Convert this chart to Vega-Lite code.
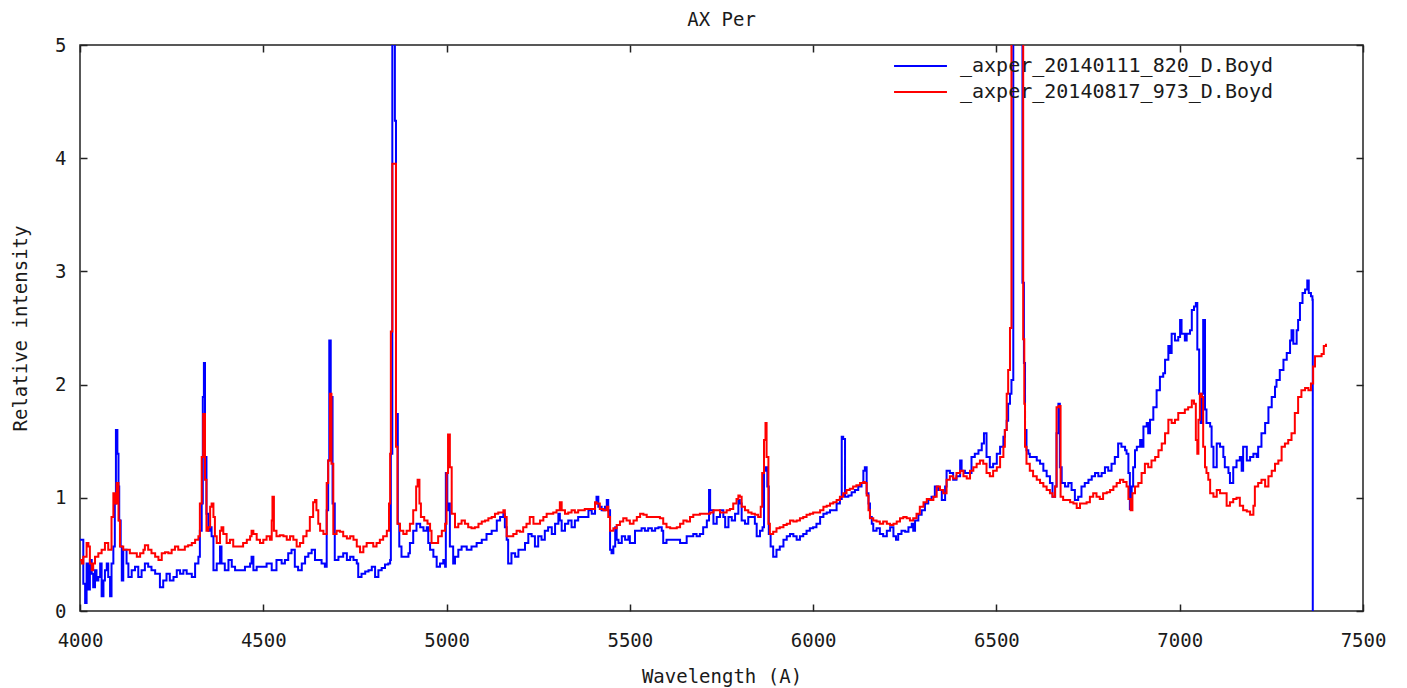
{
"$schema": "https://vega.github.io/schema/vega-lite/v6.json",
"width": 1283, "height": 566,
"autosize": {"type": "none"},
"padding": {"left": 80, "top": 45, "right": 44, "bottom": 77},
"background": "white",
"title": {"text": "AX Per", "font": "DejaVu Sans Mono", "fontSize": 19, "fontWeight": "normal", "color": "#1a1a1a", "offset": 6},
"config": {
  "view": {"stroke": "#222", "strokeWidth": 1.5},
  "axis": {"domain": false, "grid": false, "ticks": true, "tickSize": -7, "tickColor": "#222", "tickWidth": 1.5, "labelFlush": false,
    "labelFont": "DejaVu Sans Mono", "labelFontSize": 19, "labelColor": "#1a1a1a",
    "titleFont": "DejaVu Sans Mono", "titleFontSize": 19, "titleFontWeight": "normal", "titleColor": "#1a1a1a"},
  "axisBottom": {"labelPadding": 27, "titlePadding": 17},
  "axisLeft": {"labelPadding": 21, "titlePadding": 24}
},
"datasets": {
"blue": [
{"w":4000,"v":0.63},{"w":4009,"v":0.24},{"w":4014,"v":0.07},{"w":4018,"v":0.42},{"w":4023,"v":0.19},{"w":4027,"v":0.45},{"w":4032,"v":0.33},{"w":4036,"v":0.21},{"w":4041,"v":0.36},{"w":4045,"v":0.27},{"w":4050,"v":0.30},{"w":4055,"v":0.42},{"w":4059,"v":0.13},{"w":4064,"v":0.27},{"w":4068,"v":0.36},{"w":4073,"v":0.42},{"w":4077,"v":0.30},{"w":4082,"v":0.13},{"w":4086,"v":0.42},{"w":4091,"v":0.57},{"w":4095,"v":0.95},{"w":4098,"v":1.60},{"w":4102,"v":1.39},{"w":4105,"v":1.10},{"w":4107,"v":0.80},{"w":4111,"v":0.57},{"w":4114,"v":0.27},{"w":4118,"v":0.54},{"w":4127,"v":0.42},{"w":4132,"v":0.30},{"w":4141,"v":0.36},{"w":4150,"v":0.39},{"w":4159,"v":0.30},{"w":4168,"v":0.36},{"w":4177,"v":0.42},{"w":4186,"v":0.39},{"w":4195,"v":0.36},{"w":4205,"v":0.33},{"w":4218,"v":0.21},{"w":4227,"v":0.27},{"w":4236,"v":0.33},{"w":4245,"v":0.27},{"w":4255,"v":0.30},{"w":4264,"v":0.36},{"w":4273,"v":0.33},{"w":4282,"v":0.36},{"w":4291,"v":0.33},{"w":4305,"v":0.30},{"w":4314,"v":0.42},{"w":4323,"v":0.48},{"w":4327,"v":0.71},{"w":4332,"v":0.95},{"w":4335,"v":1.89},{"w":4338,"v":2.19},{"w":4341,"v":1.36},{"w":4345,"v":0.86},{"w":4350,"v":0.71},{"w":4355,"v":0.74},{"w":4359,"v":0.66},{"w":4364,"v":0.36},{"w":4373,"v":0.42},{"w":4382,"v":0.57},{"w":4386,"v":0.42},{"w":4395,"v":0.36},{"w":4405,"v":0.45},{"w":4414,"v":0.39},{"w":4423,"v":0.36},{"w":4436,"v":0.36},{"w":4450,"v":0.39},{"w":4464,"v":0.42},{"w":4468,"v":0.48},{"w":4473,"v":0.36},{"w":4482,"v":0.39},{"w":4495,"v":0.39},{"w":4509,"v":0.42},{"w":4523,"v":0.36},{"w":4536,"v":0.45},{"w":4550,"v":0.42},{"w":4559,"v":0.45},{"w":4568,"v":0.51},{"w":4577,"v":0.54},{"w":4586,"v":0.39},{"w":4595,"v":0.36},{"w":4605,"v":0.42},{"w":4614,"v":0.48},{"w":4623,"v":0.51},{"w":4632,"v":0.54},{"w":4641,"v":0.45},{"w":4650,"v":0.45},{"w":4659,"v":0.42},{"w":4668,"v":0.39},{"w":4673,"v":0.89},{"w":4677,"v":1.33},{"w":4680,"v":2.39},{"w":4684,"v":1.89},{"w":4689,"v":0.95},{"w":4695,"v":0.45},{"w":4705,"v":0.48},{"w":4718,"v":0.51},{"w":4728,"v":0.45},{"w":4737,"v":0.48},{"w":4746,"v":0.45},{"w":4755,"v":0.42},{"w":4759,"v":0.30},{"w":4768,"v":0.33},{"w":4778,"v":0.35},{"w":4787,"v":0.36},{"w":4796,"v":0.39},{"w":4805,"v":0.30},{"w":4814,"v":0.36},{"w":4823,"v":0.38},{"w":4832,"v":0.41},{"w":4841,"v":0.42},{"w":4846,"v":0.45},{"w":4848,"v":1.39},{"w":4852,"v":5.5},{"w":4857,"v":5.5},{"w":4859,"v":4.33},{"w":4862,"v":1.74},{"w":4867,"v":0.77},{"w":4871,"v":0.57},{"w":4877,"v":0.48},{"w":4887,"v":0.48},{"w":4896,"v":0.51},{"w":4900,"v":0.60},{"w":4909,"v":0.71},{"w":4918,"v":0.77},{"w":4928,"v":0.74},{"w":4937,"v":0.71},{"w":4946,"v":0.74},{"w":4950,"v":0.60},{"w":4955,"v":0.54},{"w":4964,"v":0.48},{"w":4973,"v":0.39},{"w":4982,"v":0.42},{"w":4991,"v":0.45},{"w":4996,"v":0.39},{"w":4998,"v":1.22},{"w":5002,"v":0.89},{"w":5007,"v":0.95},{"w":5009,"v":0.57},{"w":5018,"v":0.42},{"w":5023,"v":0.48},{"w":5032,"v":0.54},{"w":5041,"v":0.57},{"w":5055,"v":0.54},{"w":5068,"v":0.57},{"w":5082,"v":0.60},{"w":5096,"v":0.63},{"w":5109,"v":0.68},{"w":5123,"v":0.71},{"w":5137,"v":0.80},{"w":5146,"v":0.83},{"w":5155,"v":0.86},{"w":5159,"v":0.74},{"w":5164,"v":0.63},{"w":5168,"v":0.42},{"w":5177,"v":0.51},{"w":5187,"v":0.48},{"w":5196,"v":0.54},{"w":5205,"v":0.54},{"w":5214,"v":0.60},{"w":5223,"v":0.68},{"w":5232,"v":0.66},{"w":5241,"v":0.57},{"w":5250,"v":0.66},{"w":5259,"v":0.63},{"w":5268,"v":0.71},{"w":5277,"v":0.74},{"w":5287,"v":0.68},{"w":5296,"v":0.77},{"w":5305,"v":0.86},{"w":5309,"v":0.80},{"w":5314,"v":0.71},{"w":5323,"v":0.77},{"w":5332,"v":0.80},{"w":5341,"v":0.74},{"w":5350,"v":0.80},{"w":5359,"v":0.83},{"w":5368,"v":0.83},{"w":5377,"v":0.83},{"w":5387,"v":0.89},{"w":5396,"v":0.86},{"w":5405,"v":0.95},{"w":5409,"v":1.01},{"w":5414,"v":0.92},{"w":5423,"v":0.89},{"w":5432,"v":0.92},{"w":5437,"v":0.98},{"w":5441,"v":0.89},{"w":5446,"v":0.54},{"w":5450,"v":0.51},{"w":5455,"v":0.57},{"w":5460,"v":0.74},{"w":5464,"v":0.63},{"w":5469,"v":0.60},{"w":5478,"v":0.66},{"w":5487,"v":0.63},{"w":5496,"v":0.66},{"w":5500,"v":0.60},{"w":5510,"v":0.60},{"w":5514,"v":0.71},{"w":5523,"v":0.71},{"w":5532,"v":0.73},{"w":5541,"v":0.71},{"w":5550,"v":0.73},{"w":5560,"v":0.71},{"w":5569,"v":0.73},{"w":5578,"v":0.74},{"w":5587,"v":0.71},{"w":5591,"v":0.60},{"w":5600,"v":0.63},{"w":5619,"v":0.63},{"w":5637,"v":0.60},{"w":5646,"v":0.60},{"w":5655,"v":0.66},{"w":5664,"v":0.66},{"w":5673,"v":0.68},{"w":5682,"v":0.66},{"w":5691,"v":0.68},{"w":5700,"v":0.74},{"w":5710,"v":0.80},{"w":5716,"v":1.07},{"w":5719,"v":0.89},{"w":5728,"v":0.77},{"w":5737,"v":0.83},{"w":5746,"v":0.89},{"w":5755,"v":0.83},{"w":5760,"v":0.74},{"w":5769,"v":0.83},{"w":5778,"v":0.80},{"w":5787,"v":0.86},{"w":5796,"v":0.98},{"w":5800,"v":0.95},{"w":5805,"v":0.80},{"w":5814,"v":0.77},{"w":5823,"v":0.83},{"w":5832,"v":0.83},{"w":5841,"v":0.77},{"w":5846,"v":0.66},{"w":5855,"v":0.71},{"w":5862,"v":0.74},{"w":5866,"v":1.24},{"w":5870,"v":1.27},{"w":5875,"v":1.10},{"w":5879,"v":0.68},{"w":5884,"v":0.57},{"w":5891,"v":0.48},{"w":5900,"v":0.54},{"w":5909,"v":0.57},{"w":5919,"v":0.63},{"w":5928,"v":0.66},{"w":5937,"v":0.68},{"w":5946,"v":0.66},{"w":5955,"v":0.63},{"w":5964,"v":0.66},{"w":5973,"v":0.68},{"w":5982,"v":0.71},{"w":5991,"v":0.73},{"w":6000,"v":0.74},{"w":6009,"v":0.77},{"w":6019,"v":0.83},{"w":6028,"v":0.86},{"w":6037,"v":0.87},{"w":6046,"v":0.89},{"w":6055,"v":0.89},{"w":6064,"v":0.95},{"w":6073,"v":0.99},{"w":6078,"v":1.54},{"w":6082,"v":1.52},{"w":6087,"v":1.01},{"w":6096,"v":1.02},{"w":6105,"v":1.05},{"w":6114,"v":1.07},{"w":6123,"v":1.10},{"w":6132,"v":1.13},{"w":6137,"v":1.24},{"w":6141,"v":1.27},{"w":6146,"v":1.04},{"w":6151,"v":0.95},{"w":6155,"v":0.83},{"w":6160,"v":0.77},{"w":6164,"v":0.71},{"w":6173,"v":0.73},{"w":6182,"v":0.68},{"w":6191,"v":0.66},{"w":6201,"v":0.71},{"w":6210,"v":0.74},{"w":6219,"v":0.66},{"w":6226,"v":0.63},{"w":6232,"v":0.68},{"w":6241,"v":0.71},{"w":6251,"v":0.70},{"w":6260,"v":0.74},{"w":6269,"v":0.77},{"w":6273,"v":0.71},{"w":6278,"v":0.80},{"w":6287,"v":0.85},{"w":6296,"v":0.89},{"w":6305,"v":0.95},{"w":6314,"v":0.98},{"w":6323,"v":1.01},{"w":6332,"v":1.10},{"w":6341,"v":1.07},{"w":6351,"v":0.98},{"w":6360,"v":1.10},{"w":6364,"v":1.24},{"w":6373,"v":1.22},{"w":6382,"v":1.16},{"w":6391,"v":1.19},{"w":6401,"v":1.33},{"w":6405,"v":1.24},{"w":6414,"v":1.22},{"w":6423,"v":1.22},{"w":6432,"v":1.36},{"w":6441,"v":1.39},{"w":6451,"v":1.42},{"w":6460,"v":1.48},{"w":6466,"v":1.57},{"w":6473,"v":1.36},{"w":6482,"v":1.27},{"w":6491,"v":1.30},{"w":6501,"v":1.39},{"w":6510,"v":1.45},{"w":6519,"v":1.54},{"w":6523,"v":1.60},{"w":6528,"v":1.68},{"w":6532,"v":1.83},{"w":6537,"v":1.92},{"w":6541,"v":2.04},{"w":6546,"v":5.5},{"w":6569,"v":5.5},{"w":6571,"v":2.9},{"w":6575,"v":2.19},{"w":6578,"v":1.60},{"w":6582,"v":1.42},{"w":6587,"v":1.39},{"w":6591,"v":1.36},{"w":6600,"v":1.36},{"w":6610,"v":1.33},{"w":6619,"v":1.30},{"w":6628,"v":1.24},{"w":6637,"v":1.19},{"w":6646,"v":1.13},{"w":6653,"v":1.01},{"w":6660,"v":1.10},{"w":6664,"v":1.57},{"w":6669,"v":1.83},{"w":6673,"v":1.27},{"w":6678,"v":1.13},{"w":6687,"v":1.10},{"w":6696,"v":1.13},{"w":6705,"v":1.07},{"w":6714,"v":0.98},{"w":6723,"v":1.01},{"w":6732,"v":1.10},{"w":6741,"v":1.13},{"w":6751,"v":1.16},{"w":6760,"v":1.19},{"w":6769,"v":1.22},{"w":6778,"v":1.19},{"w":6787,"v":1.22},{"w":6796,"v":1.27},{"w":6805,"v":1.24},{"w":6814,"v":1.30},{"w":6823,"v":1.36},{"w":6832,"v":1.48},{"w":6841,"v":1.45},{"w":6851,"v":1.42},{"w":6855,"v":1.39},{"w":6860,"v":1.22},{"w":6864,"v":0.90},{"w":6869,"v":1.10},{"w":6873,"v":1.27},{"w":6878,"v":1.42},{"w":6883,"v":1.45},{"w":6892,"v":1.51},{"w":6896,"v":1.45},{"w":6901,"v":1.63},{"w":6910,"v":1.66},{"w":6914,"v":1.57},{"w":6919,"v":1.69},{"w":6928,"v":1.80},{"w":6937,"v":1.95},{"w":6946,"v":2.07},{"w":6955,"v":2.10},{"w":6960,"v":2.22},{"w":6969,"v":2.34},{"w":6973,"v":2.28},{"w":6978,"v":2.45},{"w":6987,"v":2.39},{"w":6996,"v":2.42},{"w":7001,"v":2.57},{"w":7005,"v":2.45},{"w":7014,"v":2.39},{"w":7019,"v":2.45},{"w":7028,"v":2.48},{"w":7033,"v":2.66},{"w":7039,"v":2.69},{"w":7044,"v":2.72},{"w":7048,"v":2.31},{"w":7053,"v":1.92},{"w":7057,"v":1.66},{"w":7061,"v":1.92},{"w":7064,"v":2.57},{"w":7069,"v":1.78},{"w":7073,"v":1.66},{"w":7083,"v":1.63},{"w":7087,"v":1.45},{"w":7092,"v":1.27},{"w":7101,"v":1.48},{"w":7110,"v":1.45},{"w":7119,"v":1.36},{"w":7123,"v":1.27},{"w":7133,"v":1.22},{"w":7137,"v":1.13},{"w":7146,"v":1.27},{"w":7155,"v":1.33},{"w":7164,"v":1.36},{"w":7169,"v":1.24},{"w":7173,"v":1.45},{"w":7183,"v":1.33},{"w":7192,"v":1.36},{"w":7201,"v":1.39},{"w":7210,"v":1.36},{"w":7214,"v":1.45},{"w":7223,"v":1.57},{"w":7233,"v":1.66},{"w":7242,"v":1.80},{"w":7251,"v":1.89},{"w":7260,"v":1.98},{"w":7264,"v":2.04},{"w":7273,"v":2.13},{"w":7283,"v":2.22},{"w":7292,"v":2.28},{"w":7301,"v":2.39},{"w":7305,"v":2.48},{"w":7310,"v":2.36},{"w":7319,"v":2.48},{"w":7323,"v":2.57},{"w":7328,"v":2.72},{"w":7335,"v":2.81},{"w":7342,"v":2.84},{"w":7348,"v":2.92},{"w":7352,"v":2.81},{"w":7358,"v":2.78},{"w":7362,"v":2.75},{"w":7363,"v":0}
],
"red": [
{"w":4000,"v":0.45},{"w":4005,"v":0.42},{"w":4009,"v":0.48},{"w":4018,"v":0.60},{"w":4023,"v":0.57},{"w":4027,"v":0.42},{"w":4032,"v":0.36},{"w":4036,"v":0.42},{"w":4041,"v":0.48},{"w":4050,"v":0.51},{"w":4059,"v":0.54},{"w":4068,"v":0.60},{"w":4077,"v":0.54},{"w":4086,"v":0.83},{"w":4091,"v":1.04},{"w":4095,"v":0.95},{"w":4100,"v":1.13},{"w":4105,"v":0.80},{"w":4109,"v":0.57},{"w":4118,"v":0.54},{"w":4127,"v":0.54},{"w":4136,"v":0.51},{"w":4145,"v":0.51},{"w":4155,"v":0.48},{"w":4164,"v":0.51},{"w":4173,"v":0.54},{"w":4177,"v":0.58},{"w":4186,"v":0.54},{"w":4195,"v":0.51},{"w":4205,"v":0.48},{"w":4214,"v":0.45},{"w":4223,"v":0.51},{"w":4232,"v":0.52},{"w":4241,"v":0.51},{"w":4250,"v":0.54},{"w":4259,"v":0.57},{"w":4268,"v":0.54},{"w":4277,"v":0.54},{"w":4286,"v":0.57},{"w":4295,"v":0.58},{"w":4305,"v":0.60},{"w":4314,"v":0.63},{"w":4323,"v":0.66},{"w":4327,"v":0.95},{"w":4332,"v":1.36},{"w":4336,"v":1.74},{"w":4341,"v":1.16},{"w":4345,"v":0.71},{"w":4350,"v":0.74},{"w":4355,"v":0.92},{"w":4359,"v":0.95},{"w":4364,"v":0.83},{"w":4368,"v":0.66},{"w":4373,"v":0.60},{"w":4382,"v":0.71},{"w":4386,"v":0.74},{"w":4391,"v":0.68},{"w":4400,"v":0.60},{"w":4409,"v":0.63},{"w":4418,"v":0.57},{"w":4427,"v":0.57},{"w":4436,"v":0.57},{"w":4445,"v":0.60},{"w":4455,"v":0.63},{"w":4464,"v":0.66},{"w":4468,"v":0.71},{"w":4473,"v":0.68},{"w":4482,"v":0.63},{"w":4491,"v":0.60},{"w":4500,"v":0.63},{"w":4509,"v":0.66},{"w":4518,"v":0.63},{"w":4523,"v":0.80},{"w":4525,"v":1.01},{"w":4529,"v":0.71},{"w":4536,"v":0.66},{"w":4545,"v":0.67},{"w":4555,"v":0.66},{"w":4564,"v":0.63},{"w":4573,"v":0.66},{"w":4582,"v":0.63},{"w":4591,"v":0.57},{"w":4600,"v":0.60},{"w":4609,"v":0.66},{"w":4618,"v":0.71},{"w":4627,"v":0.83},{"w":4636,"v":0.96},{"w":4641,"v":0.98},{"w":4645,"v":0.89},{"w":4650,"v":0.77},{"w":4655,"v":0.71},{"w":4664,"v":0.68},{"w":4673,"v":1.13},{"w":4677,"v":1.33},{"w":4682,"v":1.92},{"w":4686,"v":1.30},{"w":4691,"v":0.68},{"w":4700,"v":0.71},{"w":4709,"v":0.70},{"w":4718,"v":0.66},{"w":4728,"v":0.64},{"w":4737,"v":0.66},{"w":4746,"v":0.63},{"w":4755,"v":0.57},{"w":4764,"v":0.52},{"w":4773,"v":0.57},{"w":4782,"v":0.60},{"w":4791,"v":0.60},{"w":4800,"v":0.57},{"w":4809,"v":0.60},{"w":4818,"v":0.63},{"w":4827,"v":0.66},{"w":4837,"v":0.71},{"w":4843,"v":0.95},{"w":4846,"v":1.39},{"w":4848,"v":2.47},{"w":4852,"v":3.95},{"w":4859,"v":3.95},{"w":4862,"v":1.45},{"w":4866,"v":0.77},{"w":4873,"v":0.71},{"w":4882,"v":0.68},{"w":4891,"v":0.71},{"w":4900,"v":0.77},{"w":4909,"v":0.89},{"w":4917,"v":1.10},{"w":4921,"v":1.16},{"w":4926,"v":0.95},{"w":4930,"v":0.83},{"w":4939,"v":0.80},{"w":4948,"v":0.77},{"w":4955,"v":0.71},{"w":4959,"v":0.60},{"w":4968,"v":0.60},{"w":4977,"v":0.66},{"w":4987,"v":0.71},{"w":4996,"v":0.77},{"w":5000,"v":1.22},{"w":5004,"v":1.56},{"w":5009,"v":1.27},{"w":5014,"v":0.86},{"w":5023,"v":0.74},{"w":5032,"v":0.77},{"w":5041,"v":0.80},{"w":5050,"v":0.77},{"w":5059,"v":0.74},{"w":5068,"v":0.73},{"w":5077,"v":0.74},{"w":5087,"v":0.77},{"w":5096,"v":0.79},{"w":5105,"v":0.80},{"w":5114,"v":0.82},{"w":5123,"v":0.83},{"w":5132,"v":0.86},{"w":5141,"v":0.87},{"w":5150,"v":0.87},{"w":5155,"v":0.89},{"w":5159,"v":0.83},{"w":5164,"v":0.66},{"w":5173,"v":0.66},{"w":5182,"v":0.68},{"w":5191,"v":0.71},{"w":5200,"v":0.70},{"w":5209,"v":0.74},{"w":5218,"v":0.77},{"w":5227,"v":0.83},{"w":5237,"v":0.77},{"w":5246,"v":0.77},{"w":5255,"v":0.80},{"w":5264,"v":0.83},{"w":5273,"v":0.86},{"w":5282,"v":0.86},{"w":5291,"v":0.87},{"w":5300,"v":0.89},{"w":5309,"v":0.96},{"w":5314,"v":0.89},{"w":5323,"v":0.86},{"w":5332,"v":0.87},{"w":5341,"v":0.89},{"w":5350,"v":0.87},{"w":5359,"v":0.89},{"w":5368,"v":0.89},{"w":5377,"v":0.90},{"w":5387,"v":0.90},{"w":5396,"v":0.90},{"w":5405,"v":0.96},{"w":5409,"v":0.95},{"w":5418,"v":0.90},{"w":5428,"v":0.89},{"w":5437,"v":0.92},{"w":5441,"v":0.83},{"w":5446,"v":0.71},{"w":5455,"v":0.73},{"w":5464,"v":0.76},{"w":5473,"v":0.79},{"w":5482,"v":0.82},{"w":5491,"v":0.80},{"w":5500,"v":0.77},{"w":5510,"v":0.80},{"w":5519,"v":0.83},{"w":5528,"v":0.86},{"w":5537,"v":0.85},{"w":5546,"v":0.83},{"w":5564,"v":0.83},{"w":5582,"v":0.82},{"w":5591,"v":0.77},{"w":5600,"v":0.74},{"w":5610,"v":0.73},{"w":5619,"v":0.73},{"w":5628,"v":0.74},{"w":5637,"v":0.77},{"w":5646,"v":0.80},{"w":5655,"v":0.79},{"w":5664,"v":0.83},{"w":5673,"v":0.85},{"w":5691,"v":0.86},{"w":5710,"v":0.86},{"w":5719,"v":0.87},{"w":5728,"v":0.89},{"w":5746,"v":0.87},{"w":5764,"v":0.89},{"w":5773,"v":0.90},{"w":5782,"v":0.95},{"w":5791,"v":0.99},{"w":5796,"v":1.02},{"w":5800,"v":1.01},{"w":5805,"v":0.92},{"w":5814,"v":0.89},{"w":5823,"v":0.87},{"w":5832,"v":0.86},{"w":5841,"v":0.85},{"w":5850,"v":0.83},{"w":5857,"v":0.92},{"w":5861,"v":1.22},{"w":5866,"v":1.51},{"w":5870,"v":1.66},{"w":5873,"v":1.36},{"w":5878,"v":0.77},{"w":5882,"v":0.68},{"w":5891,"v":0.70},{"w":5900,"v":0.73},{"w":5909,"v":0.74},{"w":5919,"v":0.76},{"w":5928,"v":0.77},{"w":5937,"v":0.80},{"w":5946,"v":0.79},{"w":5955,"v":0.80},{"w":5964,"v":0.82},{"w":5973,"v":0.83},{"w":5982,"v":0.85},{"w":5991,"v":0.86},{"w":6000,"v":0.87},{"w":6009,"v":0.87},{"w":6019,"v":0.89},{"w":6028,"v":0.92},{"w":6037,"v":0.93},{"w":6046,"v":0.95},{"w":6055,"v":0.96},{"w":6064,"v":0.98},{"w":6073,"v":1.01},{"w":6082,"v":1.04},{"w":6091,"v":1.07},{"w":6100,"v":1.08},{"w":6109,"v":1.10},{"w":6118,"v":1.11},{"w":6128,"v":1.13},{"w":6137,"v":1.14},{"w":6141,"v":1.13},{"w":6146,"v":1.02},{"w":6151,"v":0.89},{"w":6155,"v":0.82},{"w":6164,"v":0.80},{"w":6173,"v":0.79},{"w":6182,"v":0.77},{"w":6191,"v":0.79},{"w":6201,"v":0.77},{"w":6210,"v":0.76},{"w":6219,"v":0.77},{"w":6228,"v":0.79},{"w":6237,"v":0.82},{"w":6246,"v":0.83},{"w":6255,"v":0.82},{"w":6264,"v":0.80},{"w":6273,"v":0.82},{"w":6282,"v":0.86},{"w":6291,"v":0.92},{"w":6301,"v":0.96},{"w":6310,"v":0.99},{"w":6319,"v":0.98},{"w":6328,"v":1.01},{"w":6337,"v":1.10},{"w":6346,"v":1.07},{"w":6355,"v":1.04},{"w":6364,"v":1.16},{"w":6373,"v":1.19},{"w":6382,"v":1.17},{"w":6391,"v":1.22},{"w":6401,"v":1.24},{"w":6410,"v":1.19},{"w":6419,"v":1.17},{"w":6428,"v":1.24},{"w":6437,"v":1.27},{"w":6446,"v":1.30},{"w":6455,"v":1.33},{"w":6464,"v":1.30},{"w":6473,"v":1.22},{"w":6482,"v":1.19},{"w":6491,"v":1.24},{"w":6501,"v":1.27},{"w":6510,"v":1.36},{"w":6519,"v":1.45},{"w":6523,"v":1.60},{"w":6528,"v":1.92},{"w":6532,"v":2.13},{"w":6537,"v":2.5},{"w":6541,"v":5.5},{"w":6571,"v":5.5},{"w":6573,"v":2.4},{"w":6576,"v":1.83},{"w":6578,"v":1.45},{"w":6582,"v":1.30},{"w":6591,"v":1.24},{"w":6600,"v":1.19},{"w":6610,"v":1.16},{"w":6619,"v":1.13},{"w":6628,"v":1.10},{"w":6637,"v":1.07},{"w":6646,"v":1.04},{"w":6653,"v":1.01},{"w":6660,"v":1.10},{"w":6664,"v":1.80},{"w":6670,"v":1.81},{"w":6675,"v":1.01},{"w":6682,"v":0.98},{"w":6691,"v":0.98},{"w":6701,"v":0.96},{"w":6710,"v":0.95},{"w":6719,"v":0.91},{"w":6728,"v":0.95},{"w":6737,"v":0.95},{"w":6746,"v":0.96},{"w":6755,"v":1.01},{"w":6764,"v":1.04},{"w":6773,"v":1.01},{"w":6782,"v":0.99},{"w":6791,"v":1.04},{"w":6801,"v":1.05},{"w":6810,"v":1.07},{"w":6819,"v":1.10},{"w":6828,"v":1.13},{"w":6837,"v":1.16},{"w":6846,"v":1.14},{"w":6855,"v":1.10},{"w":6860,"v":0.99},{"w":6866,"v":0.89},{"w":6871,"v":1.04},{"w":6878,"v":1.10},{"w":6887,"v":1.13},{"w":6896,"v":1.22},{"w":6905,"v":1.30},{"w":6914,"v":1.27},{"w":6923,"v":1.33},{"w":6933,"v":1.36},{"w":6942,"v":1.42},{"w":6951,"v":1.48},{"w":6960,"v":1.57},{"w":6969,"v":1.69},{"w":6978,"v":1.66},{"w":6987,"v":1.69},{"w":6996,"v":1.75},{"w":7005,"v":1.75},{"w":7014,"v":1.78},{"w":7023,"v":1.80},{"w":7033,"v":1.86},{"w":7039,"v":1.83},{"w":7044,"v":1.51},{"w":7048,"v":1.39},{"w":7051,"v":1.69},{"w":7055,"v":1.92},{"w":7060,"v":1.89},{"w":7064,"v":1.45},{"w":7069,"v":1.27},{"w":7073,"v":1.22},{"w":7078,"v":1.16},{"w":7083,"v":1.04},{"w":7092,"v":1.01},{"w":7101,"v":1.07},{"w":7110,"v":1.04},{"w":7119,"v":1.04},{"w":7128,"v":0.93},{"w":7137,"v":0.96},{"w":7146,"v":0.99},{"w":7155,"v":1.00},{"w":7164,"v":0.93},{"w":7173,"v":0.89},{"w":7183,"v":0.88},{"w":7192,"v":0.85},{"w":7201,"v":0.93},{"w":7205,"v":1.10},{"w":7214,"v":1.13},{"w":7223,"v":1.16},{"w":7233,"v":1.10},{"w":7242,"v":1.19},{"w":7251,"v":1.24},{"w":7260,"v":1.30},{"w":7269,"v":1.33},{"w":7278,"v":1.45},{"w":7287,"v":1.48},{"w":7296,"v":1.51},{"w":7305,"v":1.57},{"w":7314,"v":1.75},{"w":7323,"v":1.89},{"w":7332,"v":1.95},{"w":7342,"v":1.97},{"w":7351,"v":1.95},{"w":7358,"v":2.01},{"w":7364,"v":2.16},{"w":7369,"v":2.25},{"w":7378,"v":2.25},{"w":7387,"v":2.27},{"w":7393,"v":2.34},{"w":7399,"v":2.36}
]
},
"layer": [
  {
    "data": {"name": "blue"},
    "mark": {"type": "line", "interpolate": "step-after", "strokeWidth": 2, "clip": true},
    "encoding": {
      "x": {"field": "w", "type": "quantitative", "scale": {"domain": [4000, 7500], "nice": false, "zero": false},
        "axis": {"orient": "bottom", "values": [4000,4500,5000,5500,6000,6500,7000,7500], "format": "d", "title": "Wavelength (A)"}},
      "y": {"field": "v", "type": "quantitative", "scale": {"domain": [0, 5], "nice": false, "zero": false},
        "axis": {"orient": "left", "values": [0,1,2,3,4,5], "format": "d", "title": "Relative intensity"}},
      "color": {"datum": "_axper_20140111_820_D.Boyd", "type": "nominal",
        "scale": {"domain": ["_axper_20140111_820_D.Boyd", "_axper_20140817_973_D.Boyd"], "range": ["#0000ff", "#ff0000"]},
        "legend": {"orient": "none", "legendX": 813, "legendY": 11, "direction": "vertical", "title": null,
          "symbolType": "stroke", "symbolSize": 2800, "symbolStrokeWidth": 2, "clipHeight": 20,
          "labelFont": "DejaVu Sans Mono", "labelFontSize": 20, "labelColor": "#1a1a1a", "labelLimit": 500,
          "rowPadding": 6, "labelOffset": 12}}
    }
  },
  {
    "data": {"name": "red"},
    "mark": {"type": "line", "interpolate": "step-after", "strokeWidth": 2, "clip": true},
    "encoding": {
      "x": {"field": "w", "type": "quantitative", "scale": {"domain": [4000, 7500], "nice": false, "zero": false},
        "axis": {"orient": "top", "values": [4000,4500,5000,5500,6000,6500,7000,7500], "labels": false, "title": null}},
      "y": {"field": "v", "type": "quantitative", "scale": {"domain": [0, 5], "nice": false, "zero": false},
        "axis": {"orient": "right", "values": [0,1,2,3,4,5], "labels": false, "title": null}},
      "color": {"datum": "_axper_20140817_973_D.Boyd", "type": "nominal"}
    }
  }
],
"resolve": {"axis": {"x": "independent", "y": "independent"}}
}
